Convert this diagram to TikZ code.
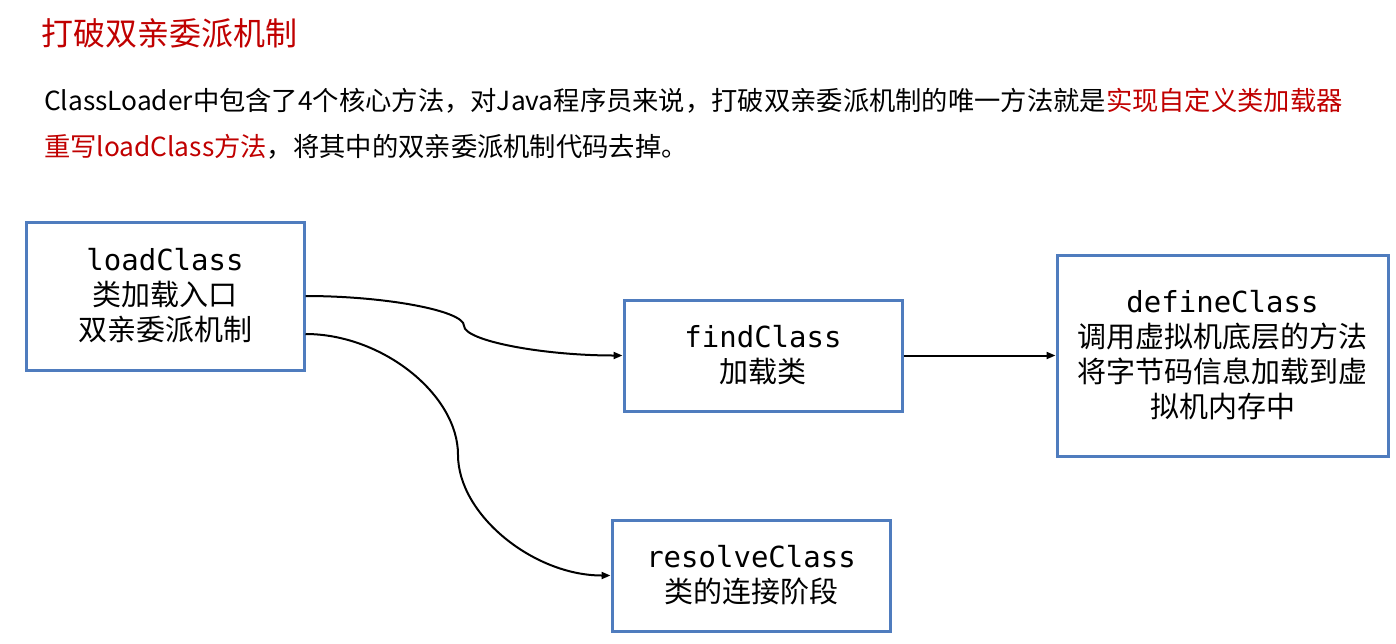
\documentclass[tikz,border=0pt]{standalone}
\usepackage{fontspec}
\setmainfont{Noto Sans CJK SC}
\setmonofont{DejaVu Sans Mono}
\usepackage{tikz}
\usetikzlibrary{arrows.meta, calc}
\definecolor{boxblue}{RGB}{79,124,190}
\definecolor{hlred}{RGB}{192,0,0}

\begin{document}
\begin{tikzpicture}
            [x=1pt, y=1pt, -{Triangle[length=9pt,width=7pt]}, line width=2pt,
            method/.style={rectangle, draw=boxblue, line width=3pt, align=center, inner sep=0pt, font=\fontsize{29}{35}\selectfont, minimum width=278pt, minimum height=111pt},
            para/.style={anchor=base west, inner sep=0pt, font=\fontsize{26.3}{30}\selectfont}]
            \useasboundingbox (0,0) rectangle (1396,-643);
            % heading and explanation
            \node[para, text=hlred, font=\fontsize{32}{38}\selectfont] (title) at (40,-45) {打破双亲委派机制};
            \node[para] (line1) at (43,-110)
            {ClassLoader中包含了4个核心方法，对Java程序员来说，打破双亲委派机制的唯一方法就是\textcolor{hlred}{实现自定义类加载器}};
            \node[para] (line2) at (43,-156)
            {\textcolor{hlred}{重写loadClass方法}，将其中的双亲委派机制代码去掉。};
            % the four methods
            \node[method, minimum height=148pt] (load) at (165,-296)
            {\texttt{loadClass} \\ 类加载入口 \\ 双亲委派机制};
            \node[method] (find) at (763,-355.5)
            {\texttt{findClass} \\ 加载类};
            \node[method, minimum width=331pt, minimum height=201pt] (define) at (1222.5,-355.5)
            {\texttt{defineClass} \\ 调用虚拟机底层的方法 \\ 将字节码信息加载到虚 \\ 拟机内存中};
            \node[method] (resolve) at (751,-575.5)
            {\texttt{resolveClass} \\ 类的连接阶段};
            % connectors
            \coordinate (m1) at ($(load.east)!.5!(find.west)$);
            \draw (load.east) to[out=0, in=90, out distance=80pt, in distance=15pt] (m1)
                to[out=-90, in=180, out distance=15pt, in distance=80pt] (find.west);
            \coordinate (low) at ([yshift=-38pt]load.east);
            \coordinate (m2) at ($(low)!.5!(resolve.west)$);
            \draw (low) to[out=0, in=90, out distance=77pt, in distance=60pt] (m2)
                to[out=-90, in=180, out distance=60pt, in distance=77pt] (resolve.west);
            \draw (find) -- (define);
        \end{tikzpicture}
\end{document}
